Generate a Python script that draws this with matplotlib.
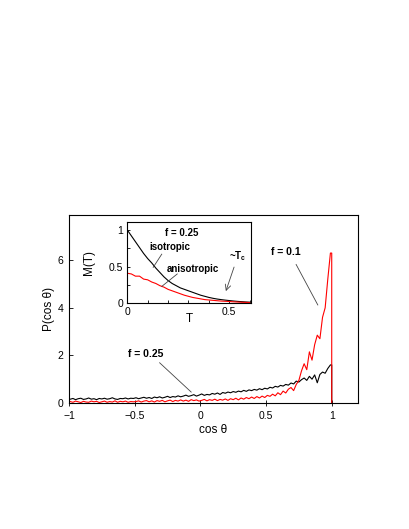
import numpy as np
import matplotlib
matplotlib.use("Agg")
import matplotlib.pyplot as plt

plt.rcParams['font.family'] = ['Liberation Sans', 'DejaVu Sans']

# ---- main panel data: P(cos theta), bins centred at -0.99 ... 0.99 ----
cos_bins = np.round(np.arange(-0.99, 1.0, 0.02), 3)

p_f025 = [0.16, 0.19, 0.14, 0.18, 0.20, 0.15, 0.17, 0.21, 0.16, 0.18,
          0.14, 0.19, 0.17, 0.20, 0.16, 0.18, 0.22, 0.17, 0.15, 0.19,
          0.18, 0.21, 0.17, 0.20, 0.19,
          0.22, 0.18, 0.21, 0.24, 0.20, 0.23, 0.19, 0.25, 0.22, 0.26,
          0.21, 0.24, 0.28, 0.23, 0.27, 0.25, 0.30, 0.26, 0.29, 0.33,
          0.28, 0.31, 0.35, 0.29, 0.33,
          0.38, 0.32, 0.36, 0.34, 0.40, 0.37, 0.42, 0.36, 0.44, 0.41,
          0.46, 0.43, 0.48, 0.45, 0.50, 0.47, 0.53, 0.49, 0.55, 0.52,
          0.57, 0.54, 0.60, 0.56, 0.62,
          0.59, 0.66, 0.63, 0.70, 0.67, 0.74, 0.71, 0.78, 0.75, 0.84,
          0.80, 0.92, 0.88, 0.98, 1.05, 0.95, 1.12, 1.00, 1.18, 0.85,
          1.20, 1.30, 1.25, 1.45, 1.60]

p_f01 = [0.06, 0.03, 0.08, 0.05, 0.02, 0.07, 0.04, 0.03, 0.08, 0.05,
         0.07, 0.02, 0.05, 0.08, 0.03, 0.06, 0.04, 0.09, 0.03, 0.07,
         0.05, 0.08, 0.03, 0.06, 0.05,
         0.06, 0.09, 0.04, 0.08, 0.10, 0.05, 0.09, 0.04, 0.10, 0.07,
         0.11, 0.05, 0.09, 0.12, 0.06, 0.11, 0.08, 0.13, 0.08, 0.12,
         0.07, 0.14, 0.10, 0.13, 0.08,
         0.11, 0.15, 0.09, 0.14, 0.11, 0.16, 0.10, 0.15, 0.12, 0.17,
         0.11, 0.18, 0.14, 0.20, 0.13, 0.21, 0.16, 0.23, 0.18, 0.25,
         0.19, 0.27, 0.21, 0.29, 0.23,
         0.32, 0.28, 0.37, 0.30, 0.43, 0.35, 0.50, 0.42, 0.58, 0.65,
         0.52, 0.78, 0.95, 1.35, 1.65, 1.40, 2.15, 1.80, 2.45, 2.85,
         2.70, 3.60, 4.00, 5.20, 6.30]

edge_x = [1.0, 1.0]
edge_f025 = [1.60, 0.0]
edge_f01 = [6.30, 0.0]

# ---- inset data: M(T) ----
T_vals = np.round(np.arange(0.0, 0.601, 0.02), 3)
m_iso = [1.00, 0.92, 0.84, 0.76, 0.68, 0.61, 0.55, 0.48, 0.42, 0.36,
         0.31, 0.27, 0.24, 0.21, 0.19, 0.17, 0.15, 0.13, 0.11, 0.095,
         0.08, 0.068, 0.058, 0.05, 0.043, 0.037, 0.031, 0.026, 0.022,
         0.018, 0.015]
m_aniso = [0.41, 0.40, 0.37, 0.37, 0.33, 0.32, 0.29, 0.27, 0.24, 0.22,
           0.19, 0.17, 0.15, 0.13, 0.11, 0.095, 0.08, 0.07, 0.06, 0.05,
           0.045, 0.04, 0.035, 0.03, 0.027, 0.024, 0.02, 0.017, 0.014,
           0.012, 0.01]

fig = plt.figure(figsize=(4.09, 5.29), dpi=100)
ax = fig.add_axes([0.1687, 0.2382, 0.7066, 0.3554])

ax.plot(list(cos_bins) + edge_x, p_f025 + edge_f025, color='black', lw=0.8)
ax.plot(list(cos_bins) + edge_x, p_f01 + edge_f01, color='red', lw=0.8)

ax.set_xlim(-1, 1.2)
ax.set_ylim(0, 7.9)
ax.set_xticks([-1, -0.5, 0, 0.5, 1])
ax.set_xticklabels(['\u22121', '\u22120.5', '0', '0.5', '1'])
ax.set_yticks([0, 2, 4, 6])
ax.tick_params(direction='in', length=3, width=0.6, labelsize=7.5, pad=4)
ax.tick_params(axis='x', direction='inout', length=4)
for s in ax.spines.values():
    s.set_linewidth(0.8)
ax.set_xlabel('cos \u03b8', fontsize=8.5, labelpad=2)
ax.set_ylabel('P(cos \u03b8)', fontsize=8.5, labelpad=2)

ax.text(-0.42, 1.95, 'f = 0.25', fontsize=7.5, fontweight='bold', ha='center')
ax.plot([-0.31, -0.07], [1.69, 0.46], color='#444444', lw=0.6)
ax.text(0.648, 6.2, 'f = 0.1', fontsize=7.5, fontweight='bold', ha='center')
ax.plot([0.729, 0.894], [5.82, 4.12], color='#444444', lw=0.6)

# ---- inset ----
ins = fig.add_axes([0.3112, 0.4267, 0.3017, 0.1531])
ins.plot(T_vals, m_iso, color='black', lw=0.8)
ins.plot(T_vals, m_aniso, color='red', lw=0.8)
ins.set_xlim(0, 0.605)
ins.set_ylim(0, 1.105)
ins.set_xticks([0, 0.5])
ins.set_xticklabels(['0', '0.5'])
ins.set_xticks([0.1, 0.2, 0.3, 0.4, 0.6], minor=True)
ins.set_yticks([0, 0.5, 1])
ins.set_yticklabels(['0', '0.5', '1'])
ins.set_yticks([0.25, 0.75], minor=True)
ins.tick_params(which='both', direction='in', length=2.5, width=0.6,
                labelsize=7.5, pad=3)
for s in ins.spines.values():
    s.set_linewidth(0.8)
ins.set_xlabel('T', fontsize=8.5, labelpad=-3)
ins.set_ylabel('M(T)', fontsize=8.5, labelpad=10)

ins.text(0.267, 0.92, 'f = 0.25', fontsize=7, fontweight='bold', ha='center')
ins.text(0.209, 0.73, 'isotropic', fontsize=7, fontweight='bold', ha='center')
ins.plot([0.169, 0.127], [0.67, 0.49], color='#444444', lw=0.6)
ins.text(0.32, 0.42, 'anisotropic', fontsize=7, fontweight='bold', ha='center')
ins.plot([0.245, 0.169], [0.40, 0.23], color='#444444', lw=0.6)
ins.text(0.54, 0.60, '~T$_\\mathregular{c}$', fontsize=7, fontweight='bold', ha='center')
ins.annotate('', xy=(0.479, 0.13), xytext=(0.528, 0.53),
             arrowprops=dict(arrowstyle='->', color='#444444', lw=0.6))

fig.savefig('out.png', dpi=100)
